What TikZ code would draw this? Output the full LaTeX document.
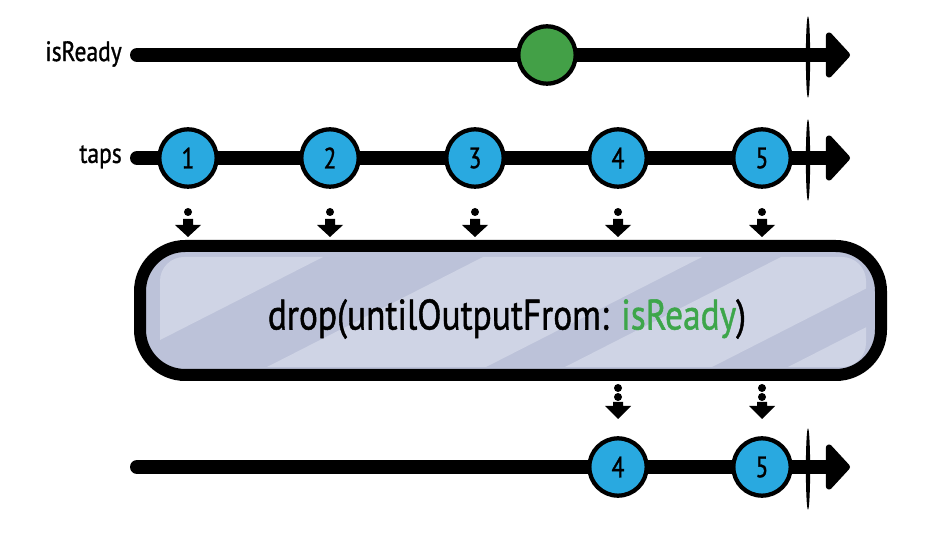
\documentclass[tikz,border=0pt]{standalone}
\usepackage{fontspec}
\usepackage{graphicx}
\setmainfont{PT Sans}
\usetikzlibrary{arrows.meta,shapes.geometric}
\definecolor{evblue}{HTML}{29A9E0}
\definecolor{evgreen}{HTML}{43A047}
\definecolor{txtgreen}{HTML}{3DA64A}
\definecolor{boxfill}{HTML}{BCC2D9}
\definecolor{stripefill}{HTML}{CFD4E5}
\newcommand{\narrowtext}[3]{\scalebox{#1}[1]{\fontsize{#2}{#2}\selectfont\addfontfeature{FakeBold=1.2}#3}}
\begin{document}
\begin{tikzpicture}[x=0.75pt,y=-0.75pt,
  timeline/.style={line width=10.5pt, line cap=round, -{Triangle[length=19pt,width=40pt,round]}},
  tickmark/.style={ellipse, fill=black, minimum width=3.2pt, minimum height=61pt, inner sep=0pt},
  ev/.style={circle, draw=black, line width=3.2pt, minimum size=43pt, inner sep=0pt},
  lbl/.style={anchor=east, inner sep=0pt},
  dotmark/.style={circle, fill=black, minimum size=6pt, inner sep=0pt},
]
\useasboundingbox (0,0) rectangle (946,534);

% ---- isReady timeline
\coordinate (a0) at (137,55);
\coordinate (a1) at (850,55);
\draw[timeline] (a0) -- (a1);
\node[tickmark] (ta) at (808,57) {};
\node[ev, fill=evgreen] (g) at (547,55) {};
\node[lbl] (la) at (122,54) {\narrowtext{0.84}{21}{isReady}};

% ---- taps timeline
\coordinate (b0) at (137,158);
\coordinate (b1) at (850,158);
\draw[timeline] (b0) -- (b1);
\node[tickmark] (tb) at (808,160) {};
\node[ev, fill=evblue] (c1) at (188,158) {\narrowtext{0.8}{22}{1}};
\node[ev, fill=evblue] (c2) at (330,158) {\narrowtext{0.8}{22}{2}};
\node[ev, fill=evblue] (c3) at (475,158) {\narrowtext{0.8}{22}{3}};
\node[ev, fill=evblue] (c4) at (618,158) {\narrowtext{0.8}{22}{4}};
\node[ev, fill=evblue] (c5) at (762,158) {\narrowtext{0.8}{22}{5}};
\node[lbl] (lb) at (122,157) {\narrowtext{0.84}{21}{taps}};

% ---- operator box
\fill[boxfill, rounded corners=34] (140,246) rectangle (881,375);
\begin{scope}
  \clip[rounded corners=18] (160,257) rectangle (866,367);
  \fill[stripefill] (60,367) -- (107,367) -- (323,257) -- (60,257) -- cycle;
  \fill[stripefill] (267,367) -- (486,367) -- (702,257) -- (483,257) -- cycle;
  \fill[stripefill] (565,367) -- (712,367) -- (928,257) -- (781,257) -- cycle;
  \fill[stripefill] (788,367) -- (1000,367) -- (1000,257) -- (1004,257) -- cycle;
\end{scope}
\draw[line width=9pt, rounded corners=34] (140,246) rectangle (881,375);
\node (op) at (507,319) {\narrowtext{0.83}{32}{drop(untilOutputFrom: \textcolor{txtgreen}{isReady})}};

% ---- arrows into box
\foreach \n/\x in {1/188,2/330,3/475,4/618,5/762}{
  \node[dotmark] (d\n) at (\x,212) {};
  \fill (\x-5,219) -- (\x+5,219) -- (\x+5,225) -- (\x+13,225) -- (\x,237) -- (\x-13,225) -- (\x-5,225) -- cycle;
}
% ---- arrows out of box
\foreach \n/\x in {4/618,5/762}{
  \node[dotmark] (e\n a) at (\x,388) {};
  \node[dotmark] (e\n b) at (\x,397) {};
  \fill (\x-5,402) -- (\x+5,402) -- (\x+5,406) -- (\x+13,406) -- (\x,419) -- (\x-13,406) -- (\x-5,406) -- cycle;
}

% ---- output timeline
\coordinate (o0) at (137,467);
\coordinate (o1) at (850,467);
\draw[timeline] (o0) -- (o1);
\node[tickmark] (to) at (808,469) {};
\node[ev, fill=evblue] (r4) at (618,467) {\narrowtext{0.8}{22}{4}};
\node[ev, fill=evblue] (r5) at (762,467) {\narrowtext{0.8}{22}{5}};
\end{tikzpicture}
\end{document}
